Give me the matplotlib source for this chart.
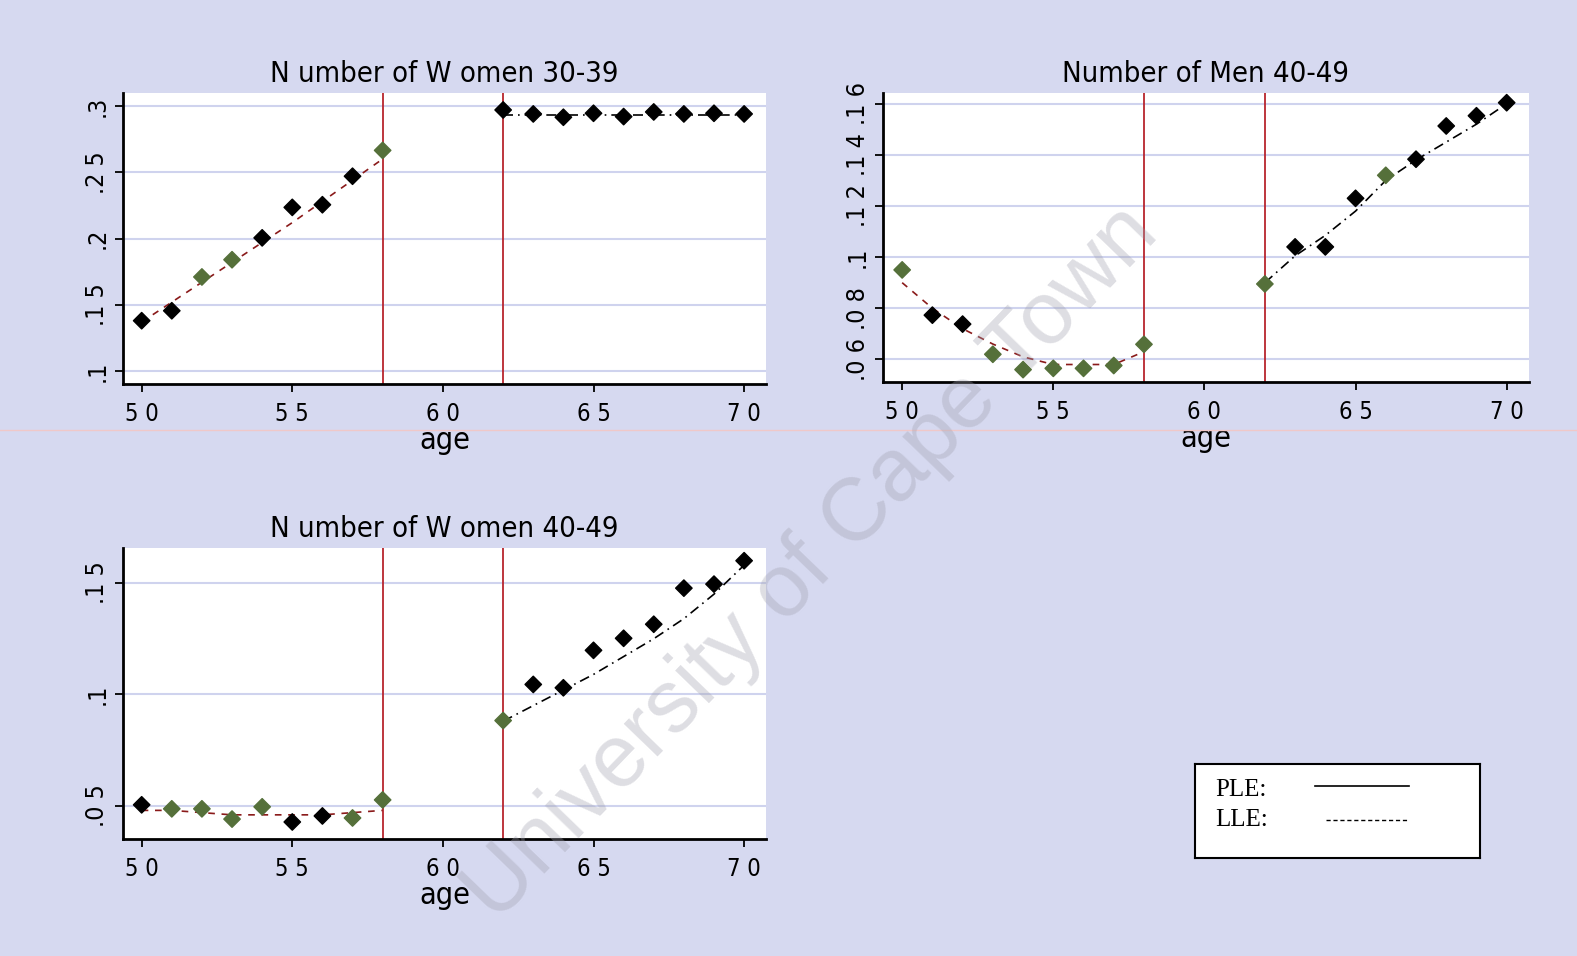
import matplotlib.pyplot as plt
import numpy as np

plt.rcParams['font.family'] = ['DejaVu Sans']
plt.rcParams['font.stretch'] = 'condensed'

# ages on each side of the cut-off window
ageL = [50, 51, 52, 53, 54, 55, 56, 57, 58]
ageR = [62, 63, 64, 65, 66, 67, 68, 69, 70]

# Number of Women 30-39
w30L = [0.138, 0.1455, 0.171, 0.184, 0.2005, 0.2235, 0.2255, 0.247, 0.2665]
w30R = [0.297, 0.294, 0.2915, 0.2945, 0.292, 0.2955, 0.294, 0.2945, 0.294]
w30L_fit = [0.137, 0.152, 0.167, 0.182, 0.197, 0.212, 0.228, 0.244, 0.260]
w30R_fit = [0.2935, 0.2935, 0.2935, 0.2935, 0.2935, 0.2935, 0.2935, 0.2935, 0.2935]
w30L_col = ['k', 'k', 'g', 'g', 'k', 'k', 'k', 'k', 'g']
w30R_col = ['k'] * 9

# Number of Men 40-49
m40L = [0.095, 0.0773, 0.0738, 0.062, 0.056, 0.0565, 0.0565, 0.0576, 0.0659]
m40R = [0.0895, 0.104, 0.104, 0.123, 0.132, 0.1383, 0.1513, 0.1553, 0.1604]
m40L_fit = [0.090, 0.080, 0.072, 0.066, 0.061, 0.058, 0.058, 0.058, 0.063]
m40R_fit = [0.090, 0.1005, 0.1085, 0.118, 0.130, 0.138, 0.145, 0.152, 0.160]
m40L_col = ['g', 'k', 'k', 'g', 'g', 'g', 'g', 'g', 'g']
m40R_col = ['g', 'k', 'k', 'k', 'g', 'k', 'k', 'k', 'k']

# Number of Women 40-49
w40L = [0.0505, 0.0487, 0.0487, 0.0441, 0.0496, 0.0428, 0.0455, 0.0446, 0.0527]
w40R = [0.0883, 0.1045, 0.103, 0.1198, 0.1252, 0.1315, 0.1477, 0.1495, 0.160]
w40L_fit = [0.048, 0.048, 0.047, 0.046, 0.046, 0.046, 0.046, 0.047, 0.048]
w40R_fit = [0.088, 0.095, 0.102, 0.109, 0.117, 0.125, 0.134, 0.145, 0.158]
w40L_col = ['k', 'g', 'g', 'g', 'g', 'k', 'k', 'g', 'g']
w40R_col = ['g', 'k', 'k', 'k', 'k', 'k', 'k', 'k', 'k']

bg = '#d6d9f0'
green = '#55703a'
red = '#b8252d'
grid = '#cfd3ee'

fig = plt.figure(figsize=(15.77, 9.56), dpi=100, facecolor=bg)

# faint pink scan line
fig.add_artist(plt.Line2D([0, 1], [0.55, 0.55], color='#f0c8c8', lw=1, transform=fig.transFigure))


def panel(rect, title, yL, yR, fL, fR, cL, cR, ylim, yticks, ylabels):
    ax = fig.add_axes(rect)
    ax.set_facecolor('white')
    for t in yticks:
        ax.axhline(t, color=grid, lw=1.5, zorder=0)
    ax.axvline(58, color=red, lw=1.3, zorder=1)
    ax.axvline(62, color=red, lw=1.3, zorder=1)
    ax.plot(ageL, fL, color='#8a1a1a', lw=1.2, ls=(0, (4, 4)), zorder=2)
    ax.plot(ageR, fR, color='k', lw=1.2, ls=(0, (6, 3, 1, 3)), zorder=2)
    cmap = {'k': 'black', 'g': green}
    ax.scatter(ageL, yL, marker='D', s=70, c=[cmap[c] for c in cL], zorder=3)
    ax.scatter(ageR, yR, marker='D', s=70, c=[cmap[c] for c in cR], zorder=3)
    ax.set_xlim(49.37, 70.73)
    ax.set_ylim(*ylim)
    ax.set_xticks([50, 55, 60, 65, 70])
    ax.set_xticklabels(['5 0', '5 5', '6 0', '6 5', '7 0'], fontsize=17)
    ax.set_yticks(yticks)
    ax.set_yticklabels(ylabels, fontsize=18, rotation=90, va='center')
    ax.tick_params(axis='both', direction='out', length=6, width=1.3, color='k')
    ax.tick_params(axis='x', pad=7)
    for s in ['top', 'right']:
        ax.spines[s].set_visible(False)
    for s in ['left', 'bottom']:
        ax.spines[s].set_linewidth(2)
    ax.set_xlabel('age', fontsize=22, labelpad=0)
    ax.set_title(title, fontsize=21, pad=8)
    return ax


panel([0.0778, 0.598, 0.408, 0.305], 'N umber of W omen 30-39',
      w30L, w30R, w30L_fit, w30R_fit, w30L_col, w30R_col,
      (0.090, 0.310), [0.1, 0.15, 0.2, 0.25, 0.3], ['.1', '.1 5', '.2', '.2 5', '.3'])

panel([0.560, 0.600, 0.4094, 0.303], 'Number of Men 40-49',
      m40L, m40R, m40L_fit, m40R_fit, m40L_col, m40R_col,
      (0.051, 0.1643), [0.06, 0.08, 0.1, 0.12, 0.14, 0.16],
      ['.0 6', '.0 8', '.1', '.1 2', '.1 4', '.1 6'])

panel([0.0778, 0.122, 0.408, 0.305], 'N umber of W omen 40-49',
      w40L, w40R, w40L_fit, w40R_fit, w40L_col, w40R_col,
      (0.035, 0.1658), [0.05, 0.1, 0.15], ['.0 5', '.1', '.1 5'])

# legend box
lax = fig.add_axes([0.758, 0.103, 0.1805, 0.0978])
lax.set_facecolor('white')
lax.set_xlim(0, 1)
lax.set_ylim(0, 1)
lax.set_xticks([])
lax.set_yticks([])
for s in lax.spines.values():
    s.set_linewidth(1.5)
lax.text(0.07, 0.72, 'PLE:', family='Liberation Serif', fontstretch='normal', fontsize=18, va='center')
lax.text(0.07, 0.40, 'LLE:', family='Liberation Serif', fontstretch='normal', fontsize=18, va='center')
lax.plot([0.42, 0.75], [0.76, 0.76], color='k', lw=1.2)
lax.plot([0.46, 0.75], [0.40, 0.40], color='k', lw=1.0, ls=(0, (3, 2)))

# scan watermark
fig.text(0.515, 0.41, 'University of Cape Town', fontsize=64, rotation=46,
         color='#a0a0ae', alpha=0.35, ha='center', va='center',
         family=['Liberation Sans', 'DejaVu Sans'], fontstretch='normal')

fig.savefig('out.png', dpi=100, facecolor=bg)
